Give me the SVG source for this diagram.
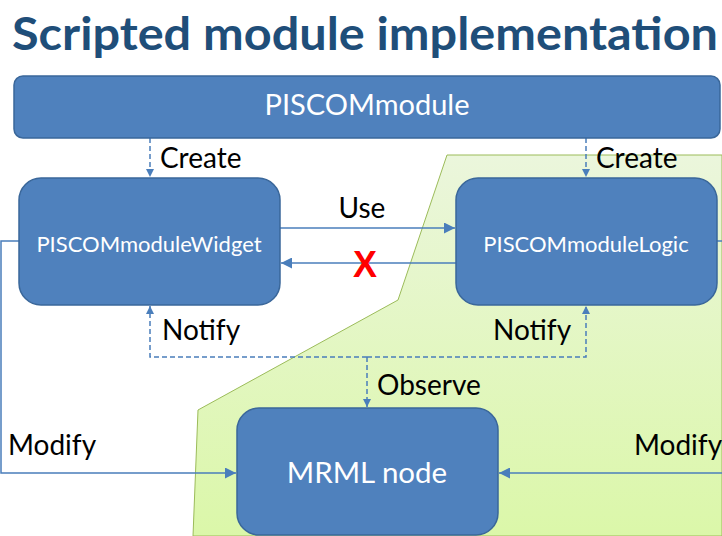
<svg xmlns="http://www.w3.org/2000/svg" width="722" height="536" viewBox="0 0 722 536">
<defs>
<linearGradient id="g" x1="0" y1="0" x2="0" y2="1">
<stop offset="0" stop-color="#ebf6dc"/>
<stop offset="1" stop-color="#dbf7a9"/>
</linearGradient>
<marker id="a" viewBox="0 0 10 10" refX="10" refY="5" markerWidth="8" markerHeight="8" markerUnits="userSpaceOnUse" orient="auto">
<path d="M0,0 L10,5 L0,10 z" fill="#4a7ebb"/>
</marker>
<marker id="ab" viewBox="0 0 10 10" refX="10" refY="5" markerWidth="11" markerHeight="11" markerUnits="userSpaceOnUse" orient="auto">
<path d="M0,0 L10,5 L0,10 z" fill="#4a7ebb"/>
</marker>
</defs>
<style>
.box{fill:#4f81bd;stroke:#3a679a;stroke-width:1.5}
.bt{fill:#ffffff;font-family:Lato,"Open Sans",sans-serif;text-anchor:middle}
.lbl{fill:#000;font-family:Lato,"Open Sans",sans-serif;font-size:28px}
.ln{fill:none;stroke:#4a7ebb;stroke-width:1.5}
.ds{fill:none;stroke:#4a7ebb;stroke-width:1.5;stroke-dasharray:5 3}
</style>
<rect width="722" height="536" fill="#ffffff"/>
<polygon id="region" points="447,155 722,155 722,536 193,536 198,410 398,300" fill="url(#g)" stroke="#9bbb59" stroke-width="1"/>
<text x="12" y="50" font-family="Lato,'Open Sans',sans-serif" font-weight="bold" font-size="45" fill="#1f4e79" textLength="706" lengthAdjust="spacingAndGlyphs">Scripted module implementation</text>
<g id="connectors">
<path class="ds" d="M150,138 V177" marker-end="url(#a)"/>
<path class="ds" d="M586,138 V177" marker-end="url(#a)"/>
<path class="ln" d="M280,228 H455" marker-end="url(#ab)"/>
<path class="ln" d="M456,263 H281" marker-end="url(#ab)"/>
<path class="ds" d="M367,357 H150 V306" marker-end="url(#a)"/>
<path class="ds" d="M367,357 H586 V306" marker-end="url(#a)"/>
<path class="ds" d="M367,357 V407" marker-end="url(#a)"/>
<path class="ln" d="M19,241 H1 V473 H236" marker-end="url(#ab)"/>
<path class="ln" d="M722,473 H499" marker-end="url(#ab)"/>
<path class="ln" d="M717,241 H722"/>
<text class="lbl" x="160" y="168">Create</text>
<text class="lbl" x="596" y="168">Create</text>
<text class="lbl" x="362" y="218" text-anchor="middle">Use</text>
<text x="365" y="277" text-anchor="middle" font-family="'Liberation Sans',Arial,sans-serif" font-weight="bold" font-size="36" fill="#ff0000">X</text>
<text class="lbl" x="162" y="340">Notify</text>
<text class="lbl" x="493" y="340">Notify</text>
<text class="lbl" x="377" y="395">Observe</text>
<text class="lbl" x="8" y="455">Modify</text>
<text class="lbl" x="634" y="455">Modify</text>
</g>
<g id="PISCOMmodule">
<rect class="box" x="14" y="76" width="706" height="62" rx="9"/>
<text class="bt" x="367" y="115" font-size="29">PISCOMmodule</text>
</g>
<g id="PISCOMmoduleWidget">
<rect class="box" x="19" y="178" width="261" height="127" rx="22"/>
<text class="bt" x="149" y="252" font-size="22">PISCOMmoduleWidget</text>
</g>
<g id="PISCOMmoduleLogic">
<rect class="box" x="456" y="178" width="261" height="127" rx="22"/>
<text class="bt" x="586" y="252" font-size="22">PISCOMmoduleLogic</text>
</g>
<g id="MRMLnode">
<rect class="box" x="237" y="408" width="261" height="127" rx="22"/>
<text class="bt" x="367" y="483" font-size="29.5">MRML node</text>
</g>
</svg>
